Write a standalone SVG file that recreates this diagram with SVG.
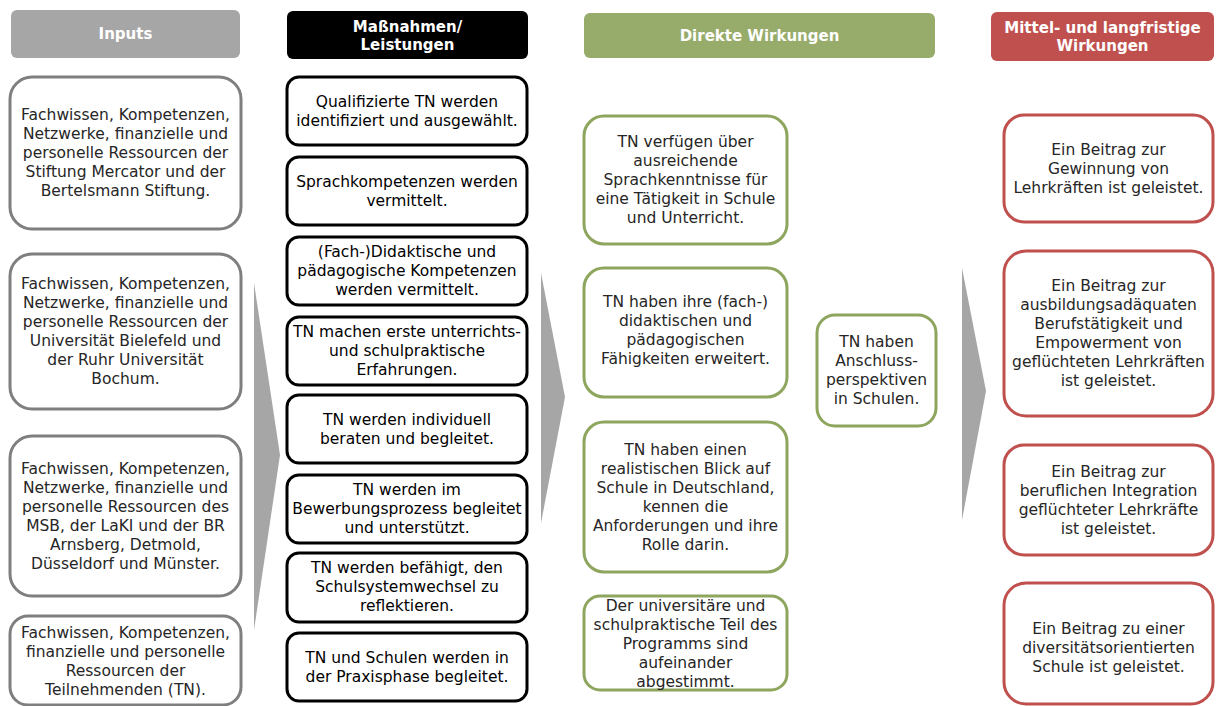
<svg xmlns="http://www.w3.org/2000/svg" width="1216" height="706" viewBox="0 0 1216 706">
<style>
text{font-family:"DejaVu Sans","Verdana",sans-serif;font-size:15.5px;fill:#262626;text-anchor:middle;dominant-baseline:central}
.hd text{font-weight:bold;fill:#fff;font-size:15px}
.in rect{fill:#fff;stroke:#7f7f7f;stroke-width:3}
.ms rect{fill:#fff;stroke:#000;stroke-width:3}
.ms text{fill:#000}
.dw rect{fill:#fff;stroke:#8ea55e;stroke-width:3}
.mw rect{fill:#fff;stroke:#c0504d;stroke-width:3}
.arr{fill:#a6a6a6}
</style>
<rect width="1216" height="706" fill="#fff"/>
<g id="connectors">
<polygon class="arr" points="254,283 280,455 254,630"/>
<polygon class="arr" points="541,273 565,397 541,523"/>
<polygon class="arr" points="962,268 986,391 962,520"/>
</g>
<g id="h-inputs" class="hd"><rect x="11" y="10" width="229" height="48" rx="6" fill="#a6a6a6"/><text x="125.5" y="34">Inputs</text></g>
<g id="h-massnahmen" class="hd"><rect x="287" y="11" width="241" height="48" rx="6" fill="#000"/><text x="407.5" y="27">Maßnahmen/</text><text x="407.5" y="45">Leistungen</text></g>
<g id="h-direkt" class="hd"><rect x="584" y="13" width="351" height="45" rx="6" fill="#97ab6b"/><text x="759.5" y="35.5">Direkte Wirkungen</text></g>
<g id="h-mittel" class="hd"><rect x="991" y="12" width="223" height="49" rx="6" fill="#c0504d"/><text x="1102.5" y="28">Mittel- und langfristige</text><text x="1102.5" y="46">Wirkungen</text></g>

<g id="in1" class="in"><rect x="10" y="77" width="231" height="152" rx="22"/><text x="125.5"><tspan x="125.5" y="115">Fachwissen, Kompetenzen,</tspan><tspan x="125.5" y="134">Netzwerke, finanzielle und</tspan><tspan x="125.5" y="153">personelle Ressourcen der</tspan><tspan x="125.5" y="172">Stiftung Mercator und der</tspan><tspan x="125.5" y="191">Bertelsmann Stiftung.</tspan></text></g>
<g id="in2" class="in"><rect x="10" y="254" width="231" height="155" rx="22"/><text><tspan x="125.5" y="284">Fachwissen, Kompetenzen,</tspan><tspan x="125.5" y="303">Netzwerke, finanzielle und</tspan><tspan x="125.5" y="322">personelle Ressourcen der</tspan><tspan x="125.5" y="341">Universität Bielefeld und</tspan><tspan x="125.5" y="360">der Ruhr Universität</tspan><tspan x="125.5" y="379">Bochum.</tspan></text></g>
<g id="in3" class="in"><rect x="10" y="436" width="231" height="160" rx="22"/><text><tspan x="125.5" y="468.5">Fachwissen, Kompetenzen,</tspan><tspan x="125.5" y="487.5">Netzwerke, finanzielle und</tspan><tspan x="125.5" y="506.5">personelle Ressourcen des</tspan><tspan x="125.5" y="525.5">MSB, der LaKI und der BR</tspan><tspan x="125.5" y="544.5">Arnsberg, Detmold,</tspan><tspan x="125.5" y="563.5">Düsseldorf und Münster.</tspan></text></g>
<g id="in4" class="in"><rect x="10" y="616" width="231" height="89" rx="18"/><text><tspan x="125.5" y="633">Fachwissen, Kompetenzen,</tspan><tspan x="125.5" y="652">finanzielle und personelle</tspan><tspan x="125.5" y="671">Ressourcen der</tspan><tspan x="125.5" y="690">Teilnehmenden (TN).</tspan></text></g>

<g id="m1" class="ms"><rect x="287" y="77" width="240" height="68" rx="12"/><text><tspan x="407" y="102">Qualifizierte TN werden</tspan><tspan x="407" y="121">identifiziert und ausgewählt.</tspan></text></g>
<g id="m2" class="ms"><rect x="287" y="157" width="240" height="68" rx="12"/><text><tspan x="407" y="182">Sprachkompetenzen werden</tspan><tspan x="407" y="201">vermittelt.</tspan></text></g>
<g id="m3" class="ms"><rect x="287" y="237" width="240" height="68" rx="12"/><text><tspan x="407" y="252">(Fach-)Didaktische und</tspan><tspan x="407" y="271">pädagogische Kompetenzen</tspan><tspan x="407" y="290">werden vermittelt.</tspan></text></g>
<g id="m4" class="ms"><rect x="287" y="317" width="240" height="68" rx="12"/><text><tspan x="407" y="332">TN machen erste unterrichts-</tspan><tspan x="407" y="351">und schulpraktische</tspan><tspan x="407" y="370">Erfahrungen.</tspan></text></g>
<g id="m5" class="ms"><rect x="287" y="395" width="240" height="68" rx="12"/><text><tspan x="407" y="420">TN werden individuell</tspan><tspan x="407" y="439">beraten und begleitet.</tspan></text></g>
<g id="m6" class="ms"><rect x="287" y="475" width="240" height="68" rx="12"/><text><tspan x="407" y="490">TN werden im</tspan><tspan x="407" y="509">Bewerbungsprozess begleitet</tspan><tspan x="407" y="528">und unterstützt.</tspan></text></g>
<g id="m7" class="ms"><rect x="287" y="553" width="240" height="69" rx="12"/><text><tspan x="407" y="568">TN werden befähigt, den</tspan><tspan x="407" y="587">Schulsystemwechsel zu</tspan><tspan x="407" y="606">reflektieren.</tspan></text></g>
<g id="m8" class="ms"><rect x="287" y="633" width="240" height="68" rx="12"/><text><tspan x="407" y="658">TN und Schulen werden in</tspan><tspan x="407" y="677">der Praxisphase begleitet.</tspan></text></g>

<g id="d1" class="dw"><rect x="584" y="116" width="203" height="128" rx="20"/><text><tspan x="685.5" y="142">TN verfügen über</tspan><tspan x="685.5" y="161">ausreichende</tspan><tspan x="685.5" y="180">Sprachkenntnisse für</tspan><tspan x="685.5" y="199">eine Tätigkeit in Schule</tspan><tspan x="685.5" y="218">und Unterricht.</tspan></text></g>
<g id="d2" class="dw"><rect x="584" y="268" width="203" height="129" rx="20"/><text><tspan x="685.5" y="302">TN haben ihre (fach-)</tspan><tspan x="685.5" y="321">didaktischen und</tspan><tspan x="685.5" y="340">pädagogischen</tspan><tspan x="685.5" y="359">Fähigkeiten erweitert.</tspan></text></g>
<g id="d3" class="dw"><rect x="584" y="422" width="203" height="150" rx="20"/><text><tspan x="685.5" y="449.5">TN haben einen</tspan><tspan x="685.5" y="468.5">realistischen Blick auf</tspan><tspan x="685.5" y="487.5">Schule in Deutschland,</tspan><tspan x="685.5" y="506.5">kennen die</tspan><tspan x="685.5" y="525.5">Anforderungen und ihre</tspan><tspan x="685.5" y="544.5">Rolle darin.</tspan></text></g>
<g id="d4" class="dw"><rect x="584" y="596" width="203" height="94" rx="16"/><text><tspan x="685.5" y="606">Der universitäre und</tspan><tspan x="685.5" y="625">schulpraktische Teil des</tspan><tspan x="685.5" y="644">Programms sind</tspan><tspan x="685.5" y="663">aufeinander</tspan><tspan x="685.5" y="682">abgestimmt.</tspan></text></g>
<g id="d5" class="dw"><rect x="817" y="315" width="119" height="111" rx="18"/><text><tspan x="876.5" y="342">TN haben</tspan><tspan x="876.5" y="361">Anschluss-</tspan><tspan x="876.5" y="380">perspektiven</tspan><tspan x="876.5" y="399">in Schulen.</tspan></text></g>

<g id="w1" class="mw"><rect x="1004" y="115" width="209" height="107" rx="20"/><text><tspan x="1108.5" y="150">Ein Beitrag zur</tspan><tspan x="1108.5" y="169">Gewinnung von</tspan><tspan x="1108.5" y="188">Lehrkräften ist geleistet.</tspan></text></g>
<g id="w2" class="mw"><rect x="1004" y="251" width="209" height="165" rx="22"/><text><tspan x="1108.5" y="286">Ein Beitrag zur</tspan><tspan x="1108.5" y="305">ausbildungsadäquaten</tspan><tspan x="1108.5" y="324">Berufstätigkeit und</tspan><tspan x="1108.5" y="343">Empowerment von</tspan><tspan x="1108.5" y="362">geflüchteten Lehrkräften</tspan><tspan x="1108.5" y="381">ist geleistet.</tspan></text></g>
<g id="w3" class="mw"><rect x="1004" y="445" width="209" height="110" rx="20"/><text><tspan x="1108.5" y="472">Ein Beitrag zur</tspan><tspan x="1108.5" y="491">beruflichen Integration</tspan><tspan x="1108.5" y="510">geflüchteter Lehrkräfte</tspan><tspan x="1108.5" y="529">ist geleistet.</tspan></text></g>
<g id="w4" class="mw"><rect x="1004" y="583" width="209" height="121" rx="22"/><text><tspan x="1108.5" y="629">Ein Beitrag zu einer</tspan><tspan x="1108.5" y="648">diversitätsorientierten</tspan><tspan x="1108.5" y="667">Schule ist geleistet.</tspan></text></g>
</svg>
